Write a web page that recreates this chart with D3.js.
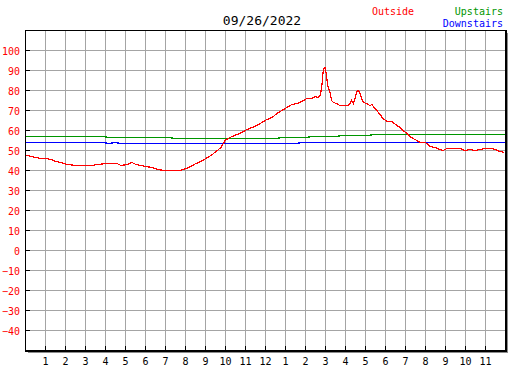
<!DOCTYPE html>
<html>
<head>
<meta charset="utf-8">
<script src="https://cdn.jsdelivr.net/npm/d3@7"></script>
<style>
  body { margin: 0; background: #fff; }
  svg text { font-family: "DejaVu Sans Mono", monospace; }
</style>
</head>
<body>
<svg id="svg1" width="527" height="370"></svg>
<script>
'use strict';

// chart data
let dayTitle = "09/26/2022";
let hourLabels = ["1","2","3","4","5","6","7","8","9","10","11","12","1","2","3","4","5","6","7","8","9","10","11"];
let tempTicks = [100, 90, 80, 70, 60, 50, 40, 30, 20, 10, 0, -10, -20, -30, -40];

// outside temperature (hour of day, degrees)
let outsideHours = [0, 0.1, 0.3, 0.55, 0.8, 1.05, 1.3, 1.55, 1.8, 2.1, 2.55, 3.35, 3.6, 4.1, 4.6, 4.8, 5.1, 5.35, 5.55, 5.8,
  6.05, 6.35, 6.65, 6.95, 7.75, 8.05, 8.3, 8.55, 8.8, 9.05, 9.3, 9.55, 9.8, 10, 10.15, 10.35, 10.6, 10.85, 11.1, 11.35,
  11.6, 11.85, 12.1, 12.35, 12.6, 12.85, 13.1, 13.35, 13.6, 13.85, 14.1, 14.35, 14.5, 14.65, 14.75, 14.83, 14.92, 15, 15.08, 15.13,
  15.25, 15.33, 15.42, 15.58, 15.75, 15.95, 16.15, 16.25, 16.33, 16.42, 16.5, 16.58, 16.67, 16.75, 16.83, 16.92, 17.08, 17.25, 17.35, 17.45,
  17.6, 17.75, 17.9, 18.1, 18.35, 18.4, 18.6, 18.75, 18.9, 19.1, 19.25, 19.4, 19.6, 19.75, 20, 20.1, 20.25, 20.5, 20.75, 20.9,
  21.1, 21.6, 21.75, 22, 22.25, 22.5, 22.75, 23, 23.35, 23.5, 23.75, 23.95];
let outsideTemps = [48, 47.5, 47, 46.5, 46, 46, 45.5, 44.5, 44, 43, 42.3, 42.3, 42.8, 43.5, 43.5, 42.5, 43, 44, 43, 42.7,
  42, 41.3, 40.7, 40, 40, 41, 42, 43.3, 44.5, 45.8, 47.5, 49.5, 51.5, 55, 55.8, 57, 57.8, 59.2, 60.3, 61.3,
  62.7, 64, 65.3, 66.7, 68.3, 70, 71.7, 73, 73.5, 74.7, 75.8, 76.2, 77.2, 76.3, 77.5, 80.8, 90.8, 91.7, 87.5, 82.5,
  79.2, 75, 74.2, 73.3, 72.5, 72.3, 72.3, 73.3, 75, 73.3, 75.8, 79.5, 80, 78.3, 75.8, 74.2, 73.3, 72.5, 73, 71.5,
  70, 68, 65.8, 64.7, 64.7, 63.8, 62.5, 61.3, 60, 58.3, 57, 55.8, 55, 54.2, 54.2, 53.3, 52, 51.3, 50.3, 50,
  51.2, 51.2, 50.8, 50, 50.3, 50, 50.3, 50.8, 50.8, 50.3, 49.7, 49.2];

// upstairs thermostat (step changes)
let upstairsHours = [0, 4.05, 7.35, 12.7, 14.2, 15.7, 17.3, 24];
let upstairsTemps = [57, 56.5, 56, 56.5, 57, 57.5, 58, 58];

// downstairs thermostat (step changes)
let downstairsHours = [0, 4.05, 4.35, 4.65, 13.7, 24];
let downstairsTemps = [54, 53.5, 54, 53.5, 54, 54];

let svg = d3.select("#svg1");

let marginLeft = 25, marginTop = 30;
let plotW = 480, plotH = 320;

let x = d3.scaleLinear().domain([0, 24]).range([marginLeft, marginLeft + plotW]);
let y = d3.scaleLinear().domain([-50, 110]).range([marginTop + plotH, marginTop]);

// drop shadow behind the plot box
svg.append("rect")
  .attr("x", marginLeft + 3).attr("y", marginTop + 3)
  .attr("width", plotW).attr("height", plotH)
  .style("fill", "#8c8c8c");
svg.append("rect")
  .attr("x", marginLeft).attr("y", marginTop)
  .attr("width", plotW).attr("height", plotH)
  .style("fill", "#fff");

// grid lines
let hours = d3.range(1, 24);
let gridTemps = d3.range(-40, 110, 10);
svg.append("g").selectAll("line")
  .data(hours).enter().append("line")
  .attr("x1", d => Math.round(x(d)) + 0.5).attr("x2", d => Math.round(x(d)) + 0.5)
  .attr("y1", marginTop).attr("y2", marginTop + plotH)
  .style("stroke", "#a4a4a4");
svg.append("g").selectAll("line")
  .data(gridTemps).enter().append("line")
  .attr("x1", marginLeft).attr("x2", marginLeft + plotW)
  .attr("y1", d => Math.round(y(d)) + 0.5).attr("y2", d => Math.round(y(d)) + 0.5)
  .style("stroke", "#a4a4a4");

// data lines
function drawLine(hs, vs, colour, curve) {
  let pts = hs.map((h, i) => [h, vs[i]]);
  svg.append("path")
    .datum(pts)
    .attr("d", d3.line().x(d => x(d[0])).y(d => Math.round(y(d[1])) + 0.5).curve(curve))
    .style("fill", "none")
    .style("stroke", colour)
    .style("stroke-width", 1.2)
    .style("shape-rendering", "crispEdges");
}
drawLine(upstairsHours, upstairsTemps, "#009600", d3.curveStepAfter);
drawLine(downstairsHours, downstairsTemps, "#0000ff", d3.curveStepAfter);
drawLine(outsideHours, outsideTemps, "#ff0000", d3.curveLinear);

// box border: thin top/left, heavier right/bottom
svg.append("line").attr("x1", marginLeft).attr("x2", marginLeft + plotW + 2)
  .attr("y1", marginTop + 0.5).attr("y2", marginTop + 0.5).style("stroke", "#000");
svg.append("line").attr("x1", marginLeft + 0.5).attr("x2", marginLeft + 0.5)
  .attr("y1", marginTop).attr("y2", marginTop + plotH + 2).style("stroke", "#000");
svg.append("line").attr("x1", marginLeft + plotW + 1).attr("x2", marginLeft + plotW + 1)
  .attr("y1", marginTop).attr("y2", marginTop + plotH + 2)
  .style("stroke", "#000").style("stroke-width", 2);
svg.append("line").attr("x1", marginLeft).attr("x2", marginLeft + plotW + 2)
  .attr("y1", marginTop + plotH + 1).attr("y2", marginTop + plotH + 1)
  .style("stroke", "#000").style("stroke-width", 2);

// y axis: short ticks pointing inward, red labels
let yAxis = svg.append("g")
  .attr("transform", `translate(${marginLeft},0)`)
  .call(d3.axisLeft(y).tickValues(tempTicks).tickSizeInner(-5).tickSizeOuter(0).tickPadding(5));
yAxis.select(".domain").remove();
yAxis.selectAll(".tick line").style("stroke", "#000");
yAxis.selectAll(".tick text")
  .attr("dy", "0.4em")
  .style("fill", "#ff0000")
  .style("font-family", "DejaVu Sans Mono")
  .style("font-size", "10px");

// x axis: hour ticks on bottom edge
let xAxis = svg.append("g")
  .attr("transform", `translate(0,${marginTop + plotH})`)
  .call(d3.axisBottom(x).tickValues(hours).tickFormat((d, i) => hourLabels[i])
    .tickSizeInner(-4).tickSizeOuter(0).tickPadding(8));
xAxis.select(".domain").remove();
xAxis.selectAll(".tick line").style("stroke", "#000");
xAxis.selectAll(".tick text")
  .style("fill", "#000")
  .style("font-family", "DejaVu Sans Mono")
  .style("font-size", "10px");

// title and legend
svg.append("text")
  .attr("x", 262).attr("y", 25)
  .attr("text-anchor", "middle")
  .style("font-size", "13px")
  .style("fill", "#000")
  .text(dayTitle);
svg.append("text")
  .attr("x", 372).attr("y", 15)
  .style("font-size", "10px")
  .style("fill", "#ff0000")
  .text("Outside");
svg.append("text")
  .attr("x", 503).attr("y", 15)
  .attr("text-anchor", "end")
  .style("font-size", "10px")
  .style("fill", "#009600")
  .text("Upstairs");
svg.append("text")
  .attr("x", 503).attr("y", 27)
  .attr("text-anchor", "end")
  .style("font-size", "10px")
  .style("fill", "#0000ff")
  .text("Downstairs");
</script>
</body>
</html>
